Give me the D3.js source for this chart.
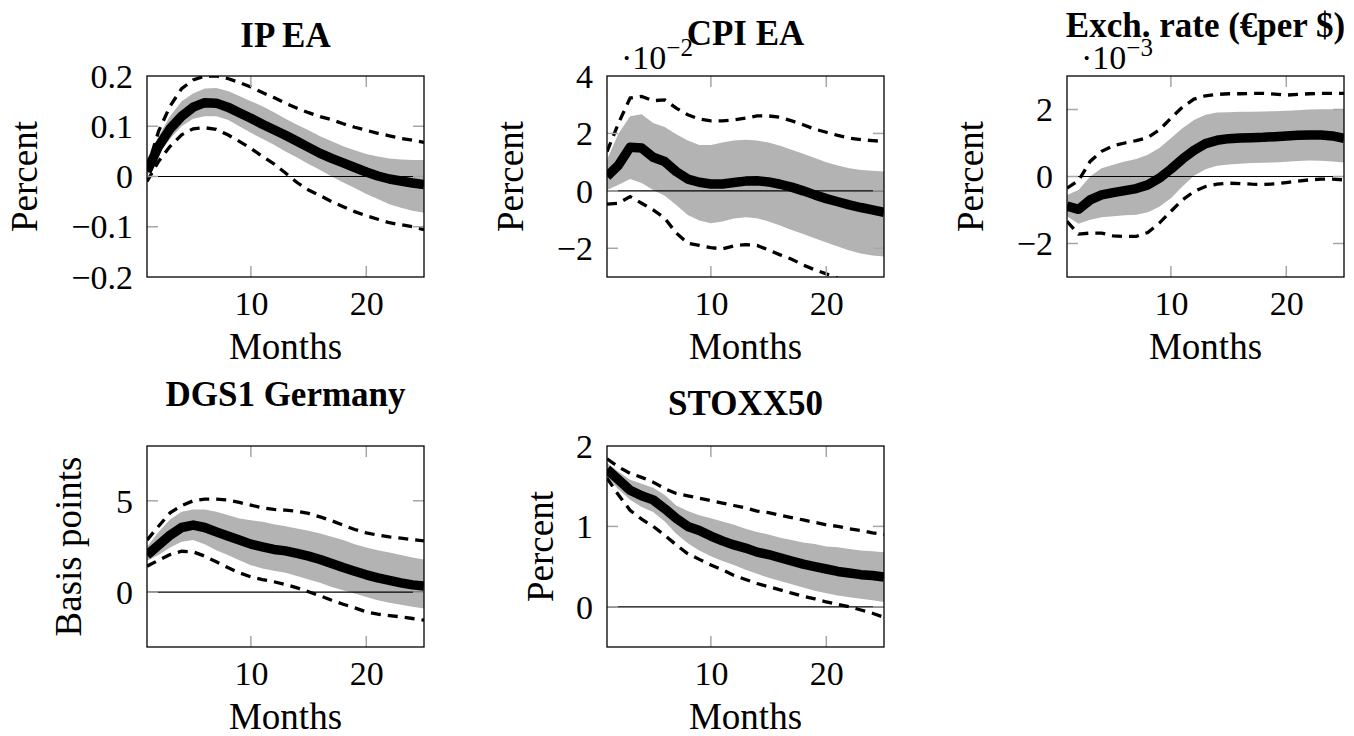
<!DOCTYPE html>
<html>
<head>
<meta charset="utf-8">
<script src="https://cdn.jsdelivr.net/npm/d3@7"></script>
<style>
  body { margin: 0; background: #fff; }
  svg { display: block; }
  text { font-family: "Liberation Serif", "Times New Roman", serif; fill: #000; }
</style>
</head>
<body>
<svg id="chart" width="1354" height="736"></svg>
<script>
// Horizon of the impulse responses (months after the shock)
const months = [1,2,3,4,5,6,7,8,9,10,11,12,13,14,15,16,17,18,19,20,21,22,23,24,25];
const monthTicks = [10, 20];

// IP EA (percent)
const ipMedian = [0.01,0.06,0.095,0.12,0.138,0.147,0.146,0.138,0.127,0.116,0.104,0.093,0.082,0.07,0.058,0.046,0.036,0.027,0.018,0.009,0.001,-0.005,-0.009,-0.013,-0.016];
const ipBandHi = [0.02,0.08,0.12,0.15,0.165,0.175,0.176,0.17,0.16,0.15,0.14,0.128,0.115,0.103,0.092,0.08,0.07,0.06,0.052,0.045,0.04,0.036,0.034,0.033,0.033];
const ipBandLo = [0.0,0.045,0.075,0.1,0.115,0.12,0.12,0.113,0.1,0.087,0.075,0.063,0.05,0.038,0.025,0.013,0.0,-0.012,-0.023,-0.035,-0.045,-0.055,-0.062,-0.068,-0.072];
const ipDashHi = [0.015,0.09,0.14,0.175,0.192,0.2,0.2,0.195,0.187,0.178,0.167,0.157,0.146,0.136,0.127,0.119,0.113,0.105,0.098,0.092,0.086,0.081,0.076,0.072,0.068];
const ipDashLo = [-0.01,0.03,0.06,0.083,0.095,0.097,0.094,0.083,0.07,0.056,0.04,0.025,0.007,-0.012,-0.027,-0.038,-0.05,-0.06,-0.07,-0.078,-0.085,-0.092,-0.096,-0.1,-0.106];
const ipTicks = [-0.2, -0.1, 0, 0.1, 0.2];
const ipTickLabels = ["\u22120.2", "\u22120.1", "0", "0.1", "0.2"];

// CPI EA (percent, ×10^-2)
const cpiMedian = [0.5,0.9,1.52,1.49,1.17,1.02,0.67,0.41,0.3,0.24,0.24,0.29,0.34,0.35,0.31,0.23,0.13,0.0,-0.14,-0.27,-0.38,-0.49,-0.58,-0.66,-0.75];
const cpiBandHi = [1.08,2.0,2.6,2.67,2.36,2.22,1.97,1.75,1.6,1.6,1.68,1.75,1.78,1.75,1.68,1.57,1.43,1.29,1.14,1.0,0.88,0.79,0.73,0.7,0.67];
const cpiBandLo = [0.03,0.21,0.41,0.27,0.03,-0.17,-0.49,-0.84,-1.03,-1.13,-1.07,-0.96,-0.92,-0.95,-1.07,-1.21,-1.36,-1.5,-1.65,-1.8,-1.94,-2.08,-2.18,-2.25,-2.29];
const cpiDashHi = [1.37,2.36,3.23,3.29,3.14,3.17,2.88,2.65,2.5,2.44,2.44,2.47,2.53,2.61,2.61,2.56,2.44,2.3,2.15,2.04,1.93,1.84,1.78,1.75,1.72];
const cpiDashLo = [-0.46,-0.43,-0.2,-0.43,-0.66,-0.95,-1.47,-1.82,-1.9,-1.98,-2.02,-1.92,-1.87,-1.9,-2.06,-2.23,-2.38,-2.58,-2.75,-2.89,-3.05,-3.18,-3.28,-3.36,-3.42];
const cpiTicks = [-2, 0, 2, 4];
const cpiTickLabels = ["\u22122", "0", "2", "4"];

// Exchange rate, euro per dollar (percent, ×10^-3)
const fxMedian = [-0.88,-0.98,-0.7,-0.55,-0.48,-0.42,-0.36,-0.25,-0.05,0.22,0.52,0.78,0.98,1.08,1.13,1.15,1.16,1.17,1.19,1.21,1.23,1.24,1.24,1.21,1.14];
const fxBandHi = [-0.55,-0.4,0.0,0.25,0.35,0.45,0.52,0.65,0.85,1.14,1.44,1.69,1.84,1.91,1.92,1.93,1.93,1.94,1.95,1.96,1.98,2.0,2.01,2.01,1.99];
const fxBandLo = [-1.19,-1.41,-1.29,-1.22,-1.19,-1.16,-1.14,-1.07,-0.9,-0.65,-0.3,0.02,0.22,0.32,0.36,0.38,0.4,0.41,0.42,0.44,0.46,0.48,0.47,0.45,0.42];
const fxDashHi = [-0.35,-0.12,0.45,0.75,0.92,1.0,1.07,1.16,1.39,1.74,2.07,2.31,2.41,2.45,2.47,2.47,2.48,2.48,2.46,2.43,2.45,2.47,2.48,2.48,2.48];
const fxDashLo = [-1.34,-1.72,-1.69,-1.69,-1.77,-1.79,-1.79,-1.67,-1.39,-1.04,-0.7,-0.45,-0.3,-0.23,-0.2,-0.21,-0.23,-0.24,-0.22,-0.18,-0.14,-0.1,-0.08,-0.08,-0.1];
const fxTicks = [-2, 0, 2];
const fxTickLabels = ["\u22122", "0", "2"];

// DGS1 Germany (basis points)
const dgsMedian = [2.03,2.57,3.12,3.54,3.67,3.54,3.3,3.07,2.85,2.63,2.48,2.34,2.26,2.12,1.97,1.79,1.57,1.35,1.15,0.95,0.78,0.64,0.51,0.4,0.33];
const dgsBandHi = [2.48,3.3,3.98,4.4,4.53,4.53,4.4,4.22,4.03,3.94,3.85,3.72,3.61,3.49,3.36,3.21,3.03,2.85,2.63,2.45,2.3,2.17,2.03,1.9,1.79];
const dgsBandLo = [1.72,2.03,2.45,2.76,2.85,2.63,2.3,2.03,1.75,1.48,1.3,1.17,1.06,0.88,0.69,0.51,0.29,0.11,-0.07,-0.26,-0.44,-0.58,-0.69,-0.8,-0.89];
const dgsDashHi = [2.85,3.61,4.34,4.74,5.0,5.09,5.09,5.04,4.91,4.76,4.62,4.53,4.49,4.43,4.31,4.12,3.91,3.67,3.43,3.25,3.12,3.03,2.96,2.88,2.81];
const dgsDashLo = [1.42,1.75,2.06,2.24,2.21,1.97,1.66,1.35,1.06,0.84,0.69,0.57,0.42,0.24,0.02,-0.2,-0.44,-0.66,-0.86,-1.08,-1.2,-1.28,-1.35,-1.44,-1.53];
const dgsTicks = [0, 5];
const dgsTickLabels = ["0", "5"];

// STOXX50 (percent)
const stoxxMedian = [1.71,1.58,1.45,1.38,1.33,1.22,1.1,1.0,0.95,0.88,0.82,0.77,0.73,0.68,0.65,0.61,0.57,0.53,0.5,0.47,0.44,0.42,0.4,0.39,0.37];
const stoxxBandHi = [1.79,1.68,1.58,1.53,1.48,1.39,1.26,1.19,1.14,1.1,1.06,1.02,0.97,0.93,0.9,0.86,0.83,0.8,0.78,0.75,0.74,0.72,0.7,0.69,0.68];
const stoxxBandLo = [1.62,1.46,1.33,1.24,1.18,1.06,0.91,0.79,0.7,0.63,0.57,0.52,0.46,0.41,0.36,0.32,0.28,0.24,0.2,0.17,0.14,0.12,0.1,0.08,0.06];
const stoxxDashHi = [1.84,1.74,1.66,1.61,1.55,1.47,1.41,1.38,1.35,1.32,1.29,1.26,1.23,1.19,1.17,1.14,1.11,1.08,1.05,1.02,1.0,0.97,0.95,0.92,0.9];
const stoxxDashLo = [1.6,1.39,1.2,1.09,1.0,0.89,0.77,0.66,0.59,0.52,0.46,0.39,0.34,0.29,0.25,0.21,0.17,0.13,0.1,0.06,0.03,0.0,-0.04,-0.08,-0.13];
const stoxxTicks = [0, 1, 2];
const stoxxTickLabels = ["0", "1", "2"];

const titles = ["IP EA", "CPI EA", "Exch. rate (\u20acper $)", "DGS1 Germany", "STOXX50"];
const yLabels = ["Percent", "Percent", "Percent", "Basis points", "Percent"];
const multipliers = [null, "\u22122", "\u22123", null, null];
const xLabel = "Months";

const panels = [
  { median: ipMedian, bandHi: ipBandHi, bandLo: ipBandLo, dashHi: ipDashHi, dashLo: ipDashLo, yDomain: [-0.2, 0.2], ticks: ipTicks, tickLabels: ipTickLabels },
  { median: cpiMedian, bandHi: cpiBandHi, bandLo: cpiBandLo, dashHi: cpiDashHi, dashLo: cpiDashLo, yDomain: [-3, 4], ticks: cpiTicks, tickLabels: cpiTickLabels },
  { median: fxMedian, bandHi: fxBandHi, bandLo: fxBandLo, dashHi: fxDashHi, dashLo: fxDashLo, yDomain: [-3, 3], ticks: fxTicks, tickLabels: fxTickLabels },
  { median: dgsMedian, bandHi: dgsBandHi, bandLo: dgsBandLo, dashHi: dgsDashHi, dashLo: dgsDashLo, yDomain: [-3, 8], ticks: dgsTicks, tickLabels: dgsTickLabels },
  { median: stoxxMedian, bandHi: stoxxBandHi, bandLo: stoxxBandLo, dashHi: stoxxDashHi, dashLo: stoxxDashLo, yDomain: [-0.5, 2], ticks: stoxxTicks, tickLabels: stoxxTickLabels }
];

// Page layout of the five axes boxes
const W = 277, H = 201;
const layout = [
  { left: 147,  top: 76,  titleY: 47,  yLabelX: 37 },
  { left: 607,  top: 76,  titleY: 45,  yLabelX: 523 },
  { left: 1067, top: 76,  titleY: 37,  yLabelX: 983 },
  { left: 147,  top: 446, titleY: 406, yLabelX: 81 },
  { left: 607,  top: 446, titleY: 415, yLabelX: 553 }
];

const svg = d3.select("#chart");
const x = d3.scaleLinear().domain([months[0], months[months.length - 1]]).range([0, W]);

panels.forEach((p, i) => {
  const L = layout[i];
  const y = d3.scaleLinear().domain(p.yDomain).range([H, 0]);
  const g = svg.append("g").attr("transform", `translate(${L.left},${L.top})`);

  const clipId = "clip" + i;
  g.append("clipPath").attr("id", clipId)
    .append("rect").attr("width", W).attr("height", H);
  const plot = g.append("g").attr("clip-path", `url(#${clipId})`);

  const rows = months.map((m, k) => ({ m, med: p.median[k], hi: p.bandHi[k], lo: p.bandLo[k], dh: p.dashHi[k], dl: p.dashLo[k] }));

  // shaded band
  plot.append("path").datum(rows)
    .attr("fill", "#b3b3b3")
    .attr("d", d3.area().x(d => x(d.m)).y0(d => y(d.lo)).y1(d => y(d.hi)));

  // zero line
  plot.append("line")
    .attr("x1", 0).attr("x2", W).attr("y1", y(0)).attr("y2", y(0))
    .attr("stroke", "#000").attr("stroke-width", 1.2);

  // dashed outer bounds
  ["dh", "dl"].forEach(key => {
    plot.append("path").datum(rows)
      .attr("fill", "none").attr("stroke", "#000")
      .attr("stroke-width", 3.3).attr("stroke-dasharray", "10,7")
      .attr("d", d3.line().x(d => x(d.m)).y(d => y(d[key])));
  });

  // point estimate
  plot.append("path").datum(rows)
    .attr("fill", "none").attr("stroke", "#000")
    .attr("stroke-width", 9.5).attr("stroke-linejoin", "round")
    .attr("d", d3.line().x(d => x(d.m)).y(d => y(d.med)));

  // inward tick marks on all four sides
  const tk = g.append("g").attr("stroke", "#a6a6a6").attr("stroke-width", 1.5);
  monthTicks.forEach(t => {
    tk.append("line").attr("x1", x(t)).attr("x2", x(t)).attr("y1", 0).attr("y2", 11);
    tk.append("line").attr("x1", x(t)).attr("x2", x(t)).attr("y1", H).attr("y2", H - 11);
  });
  p.ticks.forEach(t => {
    if (y(t) <= 0.5 || y(t) >= H - 0.5) return;
    tk.append("line").attr("x1", 0).attr("x2", 11).attr("y1", y(t)).attr("y2", y(t));
    tk.append("line").attr("x1", W).attr("x2", W - 11).attr("y1", y(t)).attr("y2", y(t));
  });

  // frame
  g.append("rect").attr("width", W).attr("height", H)
    .attr("fill", "none").attr("stroke", "#000").attr("stroke-width", 1.3);

  // tick labels
  const yAxis = g.append("g")
    .call(d3.axisLeft(y).tickValues(p.ticks).tickFormat((d, k) => p.tickLabels[k]).tickSize(0).tickPadding(14));
  yAxis.select(".domain").remove();
  yAxis.selectAll("text").attr("font-family", "Liberation Serif, serif").attr("font-size", 34).attr("dy", "0.33em");

  const xAxis = g.append("g").attr("transform", `translate(0,${H})`)
    .call(d3.axisBottom(x).tickValues(monthTicks).tickFormat(d3.format("d")).tickSize(0).tickPadding(14));
  xAxis.select(".domain").remove();
  xAxis.selectAll("text").attr("font-family", "Liberation Serif, serif").attr("font-size", 34);

  // axis titles
  g.append("text").attr("x", W / 2).attr("y", H + 82)
    .attr("text-anchor", "middle").attr("font-size", 37).text(xLabel);
  svg.append("text")
    .attr("transform", `translate(${L.yLabelX},${L.top + H / 2}) rotate(-90)`)
    .attr("text-anchor", "middle").attr("font-size", 37).text(yLabels[i]);

  // panel title
  svg.append("text").attr("x", L.left + W / 2).attr("y", L.titleY)
    .attr("text-anchor", "middle").attr("font-size", 35).attr("font-weight", "bold").text(titles[i]);

  // scale multiplier above the y axis
  if (multipliers[i]) {
    const mt = svg.append("text").attr("x", L.left + 14).attr("y", 69).attr("font-size", 34);
    mt.append("tspan").text("\u00b710");
    mt.append("tspan").attr("dy", -13).attr("font-size", 25).text(multipliers[i]);
  }
});
</script>
</body>
</html>
